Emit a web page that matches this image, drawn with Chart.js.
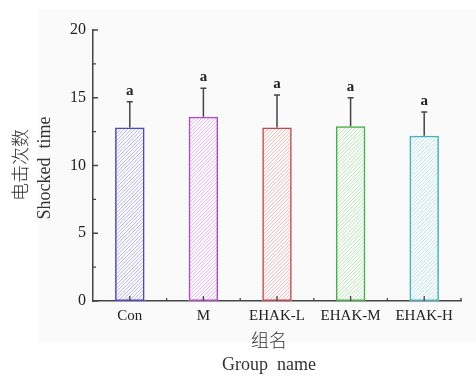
<!DOCTYPE html>
<html>
<head>
<meta charset="utf-8">
<script src="https://cdn.jsdelivr.net/npm/chart.js@4.4.0/dist/chart.umd.min.js"></script>
<style>
  html, body { margin: 0; padding: 0; background: #fff; }
  #wrap { width: 476px; height: 376px; }
</style>
</head>
<body>
<div id="wrap"><canvas id="myChart" width="476" height="376"></canvas></div>
<script>
const groups = ['Con', 'M', 'EHAK-L', 'EHAK-M', 'EHAK-H'];
const shockMeans = [12.8, 13.6, 12.8, 12.9, 12.2];
const shockSD = [1.9, 2.1, 2.4, 2.1, 1.75];
const sigLetters = ['a', 'a', 'a', 'a', 'a'];
const yTickValues = [0, 5, 10, 15, 20];
const yMinorValues = [2.5, 7.5, 12.5, 17.5];

const borderColors = ['#4a4ab8', '#b04cc0', '#c04a4a', '#4aae4a', '#48b0c0'];
const hatchColors = ['#aeaee0', '#dcb0e6', '#e4b4b4', '#b6e0b6', '#b2e0e6'];

const serif = '"Liberation Serif", "Times New Roman", serif';
const cjk = '"Noto Sans CJK SC", "Liberation Serif", serif';

const panelPlugin = {
  id: 'panel',
  beforeDraw(chart){
    const c = chart.ctx;
    c.save();
    c.fillStyle = '#fafafa';
    c.fillRect(38, 9, 438, 333);
    c.restore();
  }
};

// hatch fill inside each bar, using the bar element geometry from the library
const hatchPlugin = {
  id: 'hatch',
  beforeDatasetsDraw(chart){
    const c = chart.ctx;
    const meta = chart.getDatasetMeta(0);
    meta.data.forEach(function(bar, i){
      const left = bar.x - bar.width / 2;
      const right = bar.x + bar.width / 2;
      const top = Math.min(bar.y, bar.base);
      const bottom = Math.max(bar.y, bar.base);
      c.save();
      c.beginPath();
      c.rect(left, top, right - left, bottom - top);
      c.clip();
      c.fillStyle = '#ffffff';
      c.fillRect(left, top, right - left, bottom - top);
      c.strokeStyle = hatchColors[i];
      c.lineWidth = 1;
      c.beginPath();
      const h = bottom - top;
      for (let s = left - h; s < right + 4; s += 3.6) {
        c.moveTo(s, bottom);
        c.lineTo(s + h, top);
      }
      c.stroke();
      c.restore();
    });
  }
};

const axisTicksPlugin = {
  id: 'axisTicks',
  afterDraw(chart){
    const c = chart.ctx;
    const x = chart.scales.x;
    const y = chart.scales.y;
    const area = chart.chartArea;
    c.save();
    c.strokeStyle = '#444';
    c.lineWidth = 1.3;
    c.beginPath();
    for (let v of yTickValues) {
      const py = y.getPixelForValue(v);
      c.moveTo(area.left, py); c.lineTo(area.left + 5, py);
    }
    for (let v of yMinorValues) {
      const py = y.getPixelForValue(v);
      c.moveTo(area.left, py); c.lineTo(area.left + 3, py);
    }
    const half = (x.getPixelForValue(1) - x.getPixelForValue(0)) / 2;
    for (let i = 0; i < groups.length; i++) {
      const px = x.getPixelForValue(i);
      c.moveTo(px, area.bottom); c.lineTo(px, area.bottom - 5);
      c.moveTo(px + half, area.bottom); c.lineTo(px + half, area.bottom - 3);
    }
    c.stroke();

    // axis titles
    c.fillStyle = '#333';
    c.textAlign = 'center';
    c.textBaseline = 'middle';
    c.font = '300 18px ' + cjk;
    c.fillText('组名', 269, 340);
    c.font = '18px ' + serif;
    c.fillText('Group  name', 269, 365);

    c.save();
    c.translate(20, 165);
    c.rotate(-Math.PI / 2);
    c.font = '300 18px ' + cjk;
    c.fillText('电击次数', 0, 0);
    c.restore();
    c.save();
    c.translate(45, 168);
    c.rotate(-Math.PI / 2);
    c.font = '18px ' + serif;
    c.fillText('Shocked  time', 0, 0);
    c.restore();
    c.restore();
  }
};

const errorBarPlugin = {
  id: 'errorBars',
  afterDatasetsDraw(chart){
    const c = chart.ctx;
    const y = chart.scales.y;
    const meta = chart.getDatasetMeta(0);
    c.save();
    c.strokeStyle = '#444';
    c.lineWidth = 1.5;
    c.fillStyle = '#222';
    c.font = 'bold 15px ' + serif;
    c.textAlign = 'center';
    c.textBaseline = 'middle';
    meta.data.forEach(function(bar, i){
      const top = y.getPixelForValue(shockMeans[i] + shockSD[i]);
      c.beginPath();
      c.moveTo(bar.x, bar.y);
      c.lineTo(bar.x, top);
      c.moveTo(bar.x - 3, top);
      c.lineTo(bar.x + 3, top);
      c.stroke();
      c.fillText(sigLetters[i], bar.x, top - 11);
    });
    c.restore();
  }
};

const ctx = document.getElementById('myChart').getContext('2d');

// eslint-disable-next-line no-undef, no-unused-vars
const myChart = new Chart(ctx, {
  type: 'bar',
  data: {
    labels: groups,
    datasets: [{
      label: 'Shocked time',
      data: shockMeans,
      backgroundColor: 'rgba(0,0,0,0)',
      borderColor: borderColors,
      borderWidth: 1.5,
      borderSkipped: false,
      barPercentage: 0.4,
      categoryPercentage: 1.0,
    }]
  },
  options: {
    responsive: false,
    animation: false,
    layout: {
      padding: { top: 30, right: 15, bottom: 0, left: 0 }
    },
    plugins: {
      legend: { display: false },
      tooltip: { enabled: false },
    },
    scales: {
      x: {
        grid: { display: false, drawTicks: false },
        border: { display: true, color: '#444', width: 1.5 },
        ticks: {
          color: '#222',
          padding: 6,
          maxRotation: 0,
          font: { family: serif, size: 15 },
        },
        afterFit: function(scale){ scale.height = 75; },
      },
      y: {
        min: 0,
        max: 20,
        grid: { display: false, drawTicks: false },
        border: { display: true, color: '#444', width: 1.5 },
        ticks: {
          stepSize: 5,
          color: '#222',
          padding: 7,
          font: { family: serif, size: 16 },
        },
        afterFit: function(scale){ scale.width = 93; },
      }
    }
  },
  plugins: [panelPlugin, hatchPlugin, errorBarPlugin, axisTicksPlugin],
});
</script>
</body>
</html>
